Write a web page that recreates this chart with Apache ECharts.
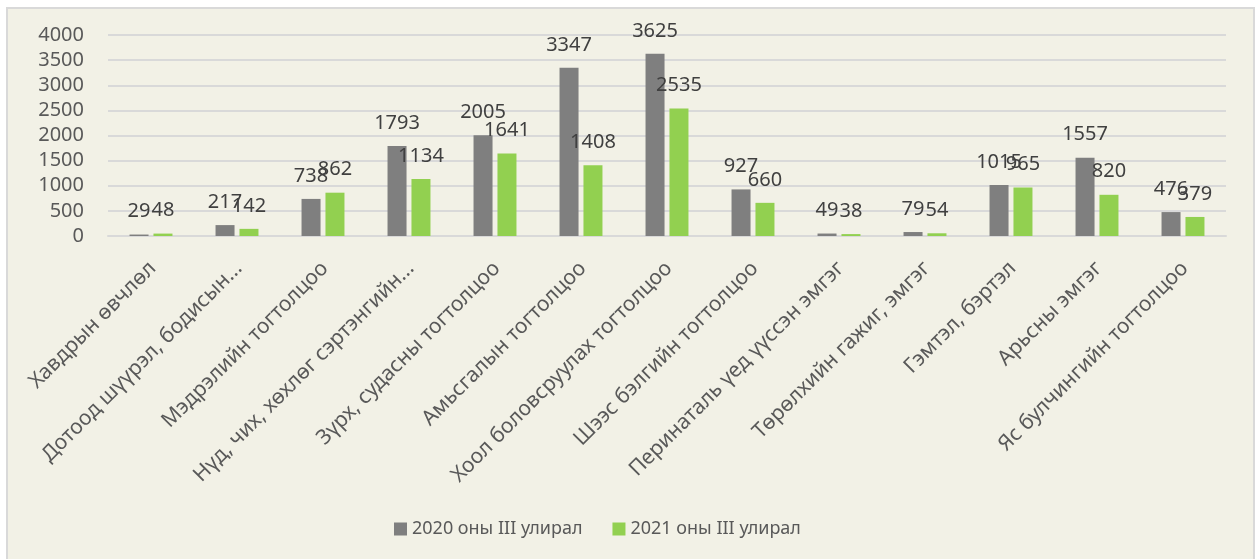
<!DOCTYPE html>
<html>
<head>
<meta charset="utf-8">
<script src="https://cdn.jsdelivr.net/npm/echarts@6/dist/echarts.min.js"></script>
<style>
html,body{margin:0;padding:0;background:#ffffff;width:1257px;height:559px;overflow:hidden;}
#bg{position:absolute;left:6px;top:7px;width:1245px;height:560px;background:#f2f1e6;border:2px solid #d9d9d9;}
#chart{position:absolute;left:0;top:0;width:1257px;height:559px;}
</style>
</head>
<body>
<div id="bg"></div>
<div id="chart"></div>
<script>
const categories = [
  "Хавдрын өвчлөл",
  "Дотоод шүүрэл, бодисын...",
  "Мэдрэлийн тогтолцоо",
  "Нүд, чих, хөхлөг сэртэнгийн...",
  "Зүрх, судасны тогтолцоо",
  "Амьсгалын тогтолцоо",
  "Хоол боловсруулах тогтолцоо",
  "Шээс бэлгийн тогтолцоо",
  "Перинаталь үед үүссэн эмгэг",
  "Төрөлхийн гажиг, эмгэг",
  "Гэмтэл, бэртэл",
  "Арьсны эмгэг",
  "Яс булчингийн тогтолцоо"
];
const series2020Name = "2020 оны III улирал";
const series2021Name = "2021 оны III улирал";
const values2020 = [29, 217, 738, 1793, 2005, 3347, 3625, 927, 49, 79, 1015, 1557, 476];
const values2021 = [48, 142, 862, 1134, 1641, 1408, 2535, 660, 38, 54, 965, 820, 379];
const yTicks = {min: 0, max: 4000, interval: 500};

const font = '"Noto Sans", "Open Sans", sans-serif';
const chart = echarts.init(document.getElementById('chart'), null, {renderer: 'canvas'});
const labelStyle = {show: true, position: 'top', distance: 13, color: '#404040', fontSize: 20, fontFamily: font};
chart.setOption({
  animation: false,
  backgroundColor: 'transparent',
  grid: {left: 108, right: 31, top: 35, bottom: 323, containLabel: false},
  legend: {
    bottom: 16, left: 389, itemWidth: 13, itemHeight: 13, itemGap: 30,
    icon: 'rect',
    textStyle: {color: '#595959', fontSize: 18, fontFamily: font},
    data: [series2020Name, series2021Name]
  },
  xAxis: {
    type: 'category', data: categories,
    axisLine: {lineStyle: {color: '#d9d9d9', width: 2}},
    axisTick: {show: false},
    axisLabel: {interval: 0, rotate: 45, color: '#595959', fontSize: 21, fontFamily: font, margin: 16, align: 'right', verticalAlign: 'top', padding: [0, 8, 0, 0]}
  },
  yAxis: {
    type: 'value', min: yTicks.min, max: yTicks.max, interval: yTicks.interval,
    axisLine: {show: false}, axisTick: {show: false},
    axisLabel: {color: '#595959', fontSize: 20, fontFamily: font, margin: 24, formatter: v => String(v)},
    splitLine: {lineStyle: {color: '#d9d9d9', width: 2}}
  },
  series: [
    {name: series2020Name, type: 'bar', data: values2020, barWidth: 19, barGap: '26%',
     itemStyle: {color: '#7f7f7f'}, label: labelStyle},
    {name: series2021Name, type: 'bar', data: values2021, barWidth: 19,
     itemStyle: {color: '#92d050'}, label: labelStyle}
  ]
});
</script>
</body>
</html>
